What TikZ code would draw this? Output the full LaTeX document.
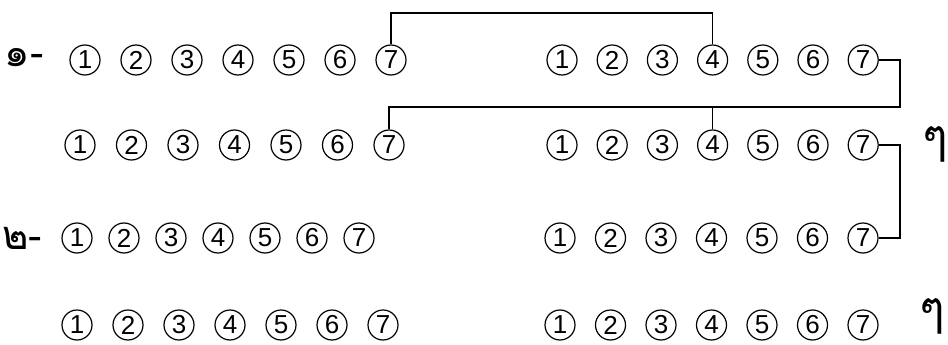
\documentclass[tikz,border=0pt]{standalone}
\usepackage{fontspec}
\setmainfont{Liberation Sans}
\newfontfamily\thaifont[Script=Thai]{Loma}
\usetikzlibrary{positioning}

\begin{document}
\begin{tikzpicture}[
    x=1pt, y=-1pt,
    num/.style={draw, circle, minimum size=30pt, inner sep=0pt, line width=1.2pt,
                font=\fontsize{26}{26}\selectfont},
    link/.style={line width=1.1pt},
    thai/.style={font=\thaifont\fontsize{40}{40}\selectfont},
    rep/.style={inner sep=0pt, font=\thaifont\fontsize{48}{48}\selectfont}
]
\useasboundingbox (0,0) rectangle (948,345);

% Circled rows: name / y / left start / left step / right start / right step
\foreach \r/\y/\lx/\ls/\rx/\rs in {a/60/85/51/562/50.2, b/145/80/51.5/562/50.2,
                                   c/238/77/47/560/50.5, d/325/77/51/560/50.5}{
  \foreach \i in {1,...,7}{
    \node[num] (l\r\i) at ({\lx+(\i-1)*\ls},\y) {\i};
    \node[num] (r\r\i) at ({\rx+(\i-1)*\rs},\y) {\i};
  }
}

% Thai numbering and repeat marks
\node[thai] (one) at (24,58) {๑-};
\node[thai] (two) at (22,238) {๒-};
\node[rep] (rep1) at (935,144) {ๆ};
\node[rep] (rep2) at (932,316) {ๆ};

% Connectors
\coordinate (top) at (550,13);
\coordinate (mid) at (900,107);
\coordinate (low) at (900,238);
\draw[link] (la7.north) |- (top) -| (ra4.north);
\draw[link] (ra7.east) -| (mid) -| (lb7.north);
\draw[link] (rb4.north) -- (rb4.north |- mid);
\draw[link] (rb7.east) -| (low) -- (rc7.east);

\end{tikzpicture}
\end{document}
